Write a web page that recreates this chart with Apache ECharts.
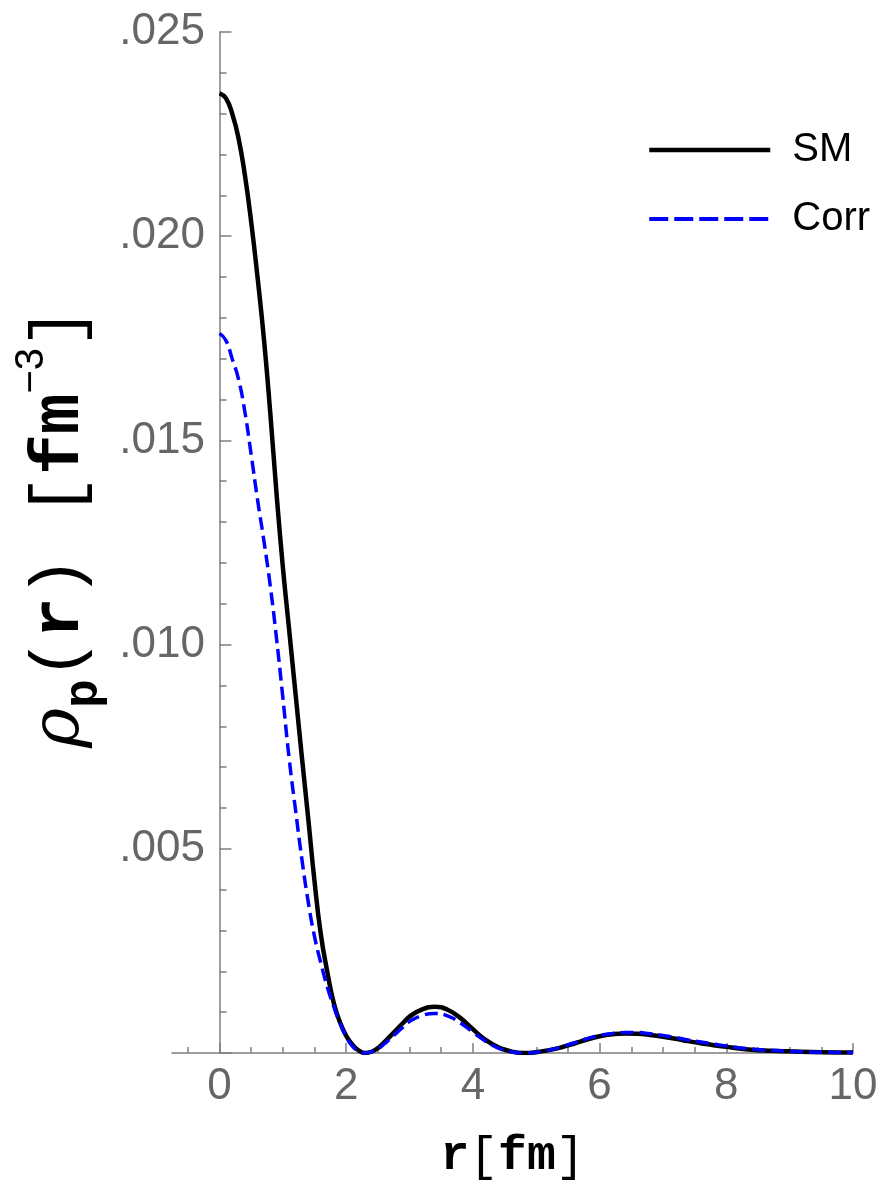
<!DOCTYPE html>
<html>
<head>
<meta charset="utf-8">
<script src="https://cdn.jsdelivr.net/npm/echarts@6/dist/echarts.min.js"></script>
<style>
html,body{margin:0;padding:0;background:#fff;}
#chart{width:885px;height:1183px;}
</style>
</head>
<body>
<div id="chart"></div>
<script>
// radius r [fm]
const rValues = [0,0.1,0.2,0.3,0.4,0.5,0.6,0.7,0.8,0.9,1.0,1.1,1.2,1.3,1.4,1.5,1.6,1.7,1.8,1.9,2.0,
    2.1,2.2,2.3,2.4,2.5,2.6,2.7,2.8,2.9,3.0,3.2,3.4,3.6,3.8,4.0,4.2,4.4,4.6,4.8,5.0,5.2,5.4,5.6,5.8,
    6.0,6.2,6.4,6.6,6.8,7.0,7.2,7.4,7.6,7.8,8.0,8.2,8.4,8.6,8.8,9.0,9.5,10]
// proton density, fm^-3
const smValues = [0.02350,0.02338,0.02300,0.02240,0.02150,0.02035,0.01900,0.01750,0.01570,0.01370,0.01190,
    0.01035,0.00880,0.00725,0.00575,0.00420,0.00290,0.00200,0.00125,0.00076,0.00042,
    0.00020,0.00006,0.00000,0.00003,0.00012,0.00026,0.00042,0.00058,0.00074,0.00089,
    0.00107,0.00113,0.00106,0.00086,0.00058,0.00032,0.00014,0.00004,0.00000,0.00002,0.00007,0.00014,0.00023,0.00033,
    0.00041,0.00046,0.00048,0.00047,0.00044,0.00040,0.00035,0.00029,0.00024,0.00019,0.00015,0.00011,0.00008,0.00006,0.00005,0.00004,
    0.00002,0.00001]
const corrValues = [0.01762,0.01745,0.01700,0.01650,0.01570,0.01465,0.01355,0.01255,0.01145,0.01015,0.00870,
    0.00720,0.00595,0.00475,0.00370,0.00285,0.00220,0.00162,0.00115,0.00074,0.00040,
    0.00016,0.00004,0.00000,0.00003,0.00010,0.00022,0.00036,0.00050,0.00064,0.00077,
    0.00092,0.00097,0.00091,0.00074,0.00051,0.00029,0.00012,0.00003,0.00000,0.00002,0.00007,0.00015,0.00025,0.00035,
    0.00043,0.00048,0.00050,0.00050,0.00047,0.00043,0.00038,0.00032,0.00027,0.00022,0.00017,0.00013,0.00010,0.00007,0.00006,0.00004,
    0.00002,0.00001]
const seriesNames = ['SM', 'Corr']
const xMajorTicks = [0,2,4,6,8,10]
const xMinorTicks = [-0.5,0.5,1,1.5,2.5,3,3.5,4.5,5,5.5,6.5,7,7.5,8.5,9,9.5]

const axisGray = '#7f7f7f'
const labelGray = '#666666'

function pairs(xs, ys){
    let out = []
    for(let i=0;i<xs.length;i++)
        out.push([xs[i], ys[i]])
    return out
}

let option = {
    animation: false,
    backgroundColor: '#fff',
    grid: {left: 172, right: 32, top: 32, bottom: 130, containLabel: false, outerBoundsMode: 'none'},
    legend: {
        orient: 'vertical',
        left: 642,
        top: 125,
        itemWidth: 121,
        itemHeight: 20,
        itemGap: 29,
        itemStyle: {opacity: 0},
        textStyle: {fontSize: 40, fontFamily: 'Liberation Sans', color: '#000', padding: [0,0,0,17]},
        data: [
            {name: seriesNames[0], lineStyle: {width: 4.5}},
            {name: seriesNames[1], lineStyle: {width: 4, type: [19,6]}}
        ]
    },
    xAxis: [
        {
            type: 'value', min: -0.75, max: 10, position: 'bottom',
            axisLine: {onZero: false, lineStyle: {color: axisGray, width: 1.5}},
            axisTick: {inside: true, length: 10, customValues: xMajorTicks, lineStyle: {color: axisGray, width: 1.5}},
            axisLabel: {customValues: xMajorTicks, fontSize: 44, fontFamily: 'Liberation Sans', color: labelGray, margin: 12},
            splitLine: {show: false},
            name: '{b|r}{n|[}{b|fm}{n|]}',
            nameLocation: 'middle',
            nameGap: 80,
            nameTextStyle: {
                rich: {
                    b: {fontFamily: 'Liberation Mono', fontWeight: 'bold', fontSize: 48, color: '#000'},
                    n: {fontFamily: 'Liberation Mono', fontWeight: 'normal', fontSize: 48, color: '#000'}
                }
            }
        },
        {
            type: 'value', min: -0.75, max: 10, position: 'bottom',
            axisLine: {show: false, onZero: false},
            axisTick: {inside: true, length: 6, customValues: xMinorTicks, lineStyle: {color: axisGray, width: 1.5}},
            axisLabel: {show: false},
            splitLine: {show: false}
        }
    ],
    yAxis: {
        type: 'value', min: 0, max: 0.025, interval: 0.005,
        axisLine: {onZero: true, onZeroAxisIndex: 0, lineStyle: {color: axisGray, width: 1.5}},
        axisTick: {inside: true, length: 12, lineStyle: {color: axisGray, width: 1.5}},
        minorTick: {show: true, splitNumber: 5, length: 7, lineStyle: {color: axisGray, width: 1.5}},
        axisLabel: {
            fontSize: 44, fontFamily: 'Liberation Sans', color: labelGray, margin: -33,
            formatter: v => v === 0 ? '' : v.toFixed(3).replace(/^0/, '')
        },
        splitLine: {show: false},
        name: '{rho|ρ}{sub|p}{n|(}{b|r}{n|)}{n| [}{b|fm}{sup|−3}{n|]}',
        nameLocation: 'middle',
        nameGap: 62,
        nameTextStyle: {
            padding: [0, 0, 0, 30],
            rich: {
                rho: {fontFamily: 'DejaVu Serif', fontStyle: 'italic', fontSize: 68, lineHeight: 96, color: '#000'},
                sub: {fontFamily: 'Liberation Mono', fontWeight: 'bold', fontSize: 48, lineHeight: 64, verticalAlign: 'bottom', color: '#000'},
                n: {fontFamily: 'Liberation Mono', fontSize: 68, lineHeight: 96, color: '#000'},
                b: {fontFamily: 'Liberation Mono', fontWeight: 'bold', fontSize: 68, lineHeight: 96, color: '#000'},
                sup: {fontFamily: 'Liberation Sans', fontSize: 40, lineHeight: 40, verticalAlign: 'top', color: '#000'}
            }
        }
    },
    series: [
        {
            name: seriesNames[0], type: 'line', xAxisIndex: 0, smooth: true,
            showSymbol: false, symbol: 'none',
            lineStyle: {color: '#000', width: 4.5},
            itemStyle: {color: '#000'},
            data: pairs(rValues, smValues)
        },
        {
            name: seriesNames[1], type: 'line', xAxisIndex: 0, smooth: true,
            showSymbol: false, symbol: 'none',
            lineStyle: {color: '#0000ff', width: 3.5, type: [13,6]},
            itemStyle: {color: '#0000ff'},
            data: pairs(rValues, corrValues)
        }
    ]
}

let chartDom = echarts.init(document.querySelector('#chart'))
chartDom.setOption(option)
</script>
</body>
</html>
